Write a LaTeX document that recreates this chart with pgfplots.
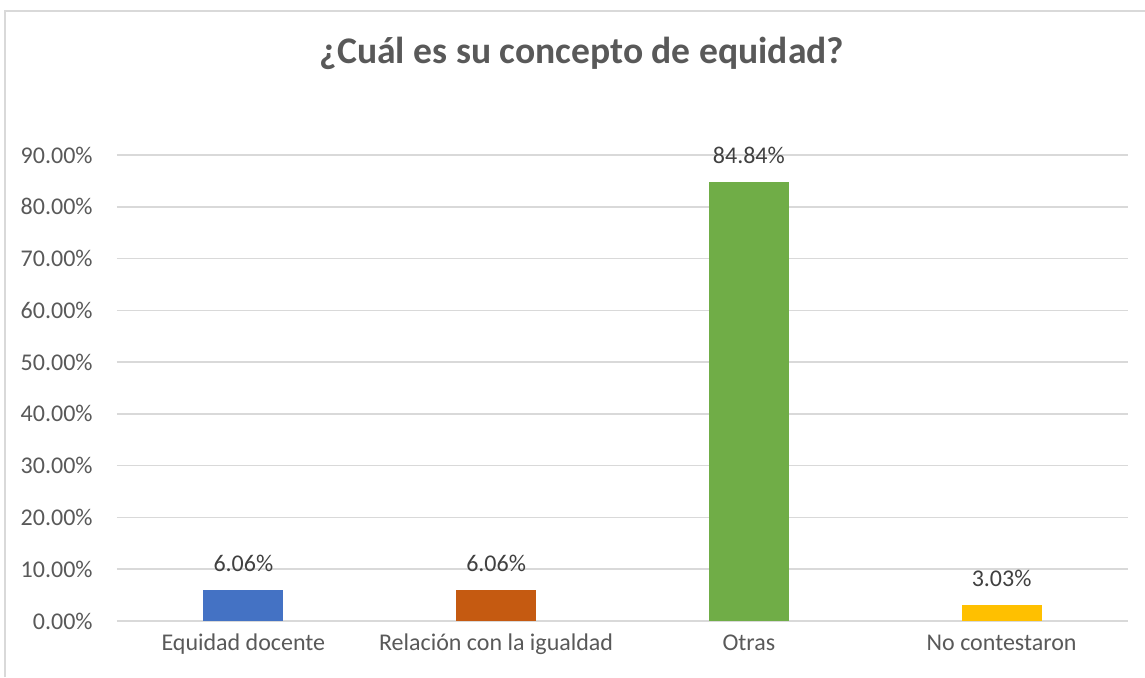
\documentclass[border=0pt]{standalone}
\usepackage{pgfplots}
\pgfplotsset{compat=1.18}
\usepackage{fontspec}
\setmainfont{Carlito}
\definecolor{cBlue}{HTML}{4472C4}
\definecolor{cOrange}{HTML}{C55A11}
\definecolor{cGreen}{HTML}{70AD47}
\definecolor{cGold}{HTML}{FFC000}
\definecolor{cGrid}{HTML}{D9D9D9}
\definecolor{cText}{HTML}{595959}
\definecolor{cLabel}{HTML}{404040}

\begin{document}
\begin{tikzpicture}
% picture frame: 1px = 0.5pt
\path[use as bounding box] (-58.5pt,-28pt) rectangle (514pt,310.5pt);
\draw[cGrid, line width=0.8pt] (-56pt,-28pt) -- (-56pt,305pt) -- (514pt,305pt);
\node[cText, font=\fontsize{18.8}{22}\selectfont\bfseries, anchor=base] at (232.5pt,279pt)
  {¿Cuál es su concepto de equidad?};
\begin{axis}[
  scale only axis, width=505.5pt, height=233pt,
  at={(0,0)}, anchor=south west,
  xmin=-0.5, xmax=3.5, ymin=0, ymax=90,
  xtick={0,1,2,3},
  xticklabels={Equidad docente, Relación con la igualdad, Otras, No contestaron},
  ytick={0,10,...,90},
  yticklabel={\pgfmathprintnumber[fixed,fixed zerofill,precision=2]{\tick}\%},
  /pgf/number format/assume math mode=true,
  axis line style={draw=none}, major tick length=0pt,
  ymajorgrids, grid style={cGrid, line width=0.8pt},
  tick label style={font=\fontsize{12}{14}\selectfont, text=cText},
  xticklabel style={anchor=base, yshift=-14.5pt, inner sep=0pt},
  yticklabel style={anchor=east, xshift=-12pt, inner sep=0pt},
  ybar, bar width=40pt, bar shift=0pt,
  nodes near coords={\pgfmathprintnumber[fixed,fixed zerofill,precision=2]{\pgfplotspointmeta}\%},
  every node near coord/.append style={font=\fontsize{12}{14}\selectfont, text=cLabel, inner sep=0pt, yshift=9pt},
  clip=false,
]
\addplot[fill=cBlue, draw=none] coordinates {(0,6.06)};
\addplot[fill=cOrange, draw=none] coordinates {(1,6.06)};
\addplot[fill=cGreen, draw=none] coordinates {(2,84.84)};
\addplot[fill=cGold, draw=none] coordinates {(3,3.03)};
\end{axis}
\end{tikzpicture}
\end{document}
